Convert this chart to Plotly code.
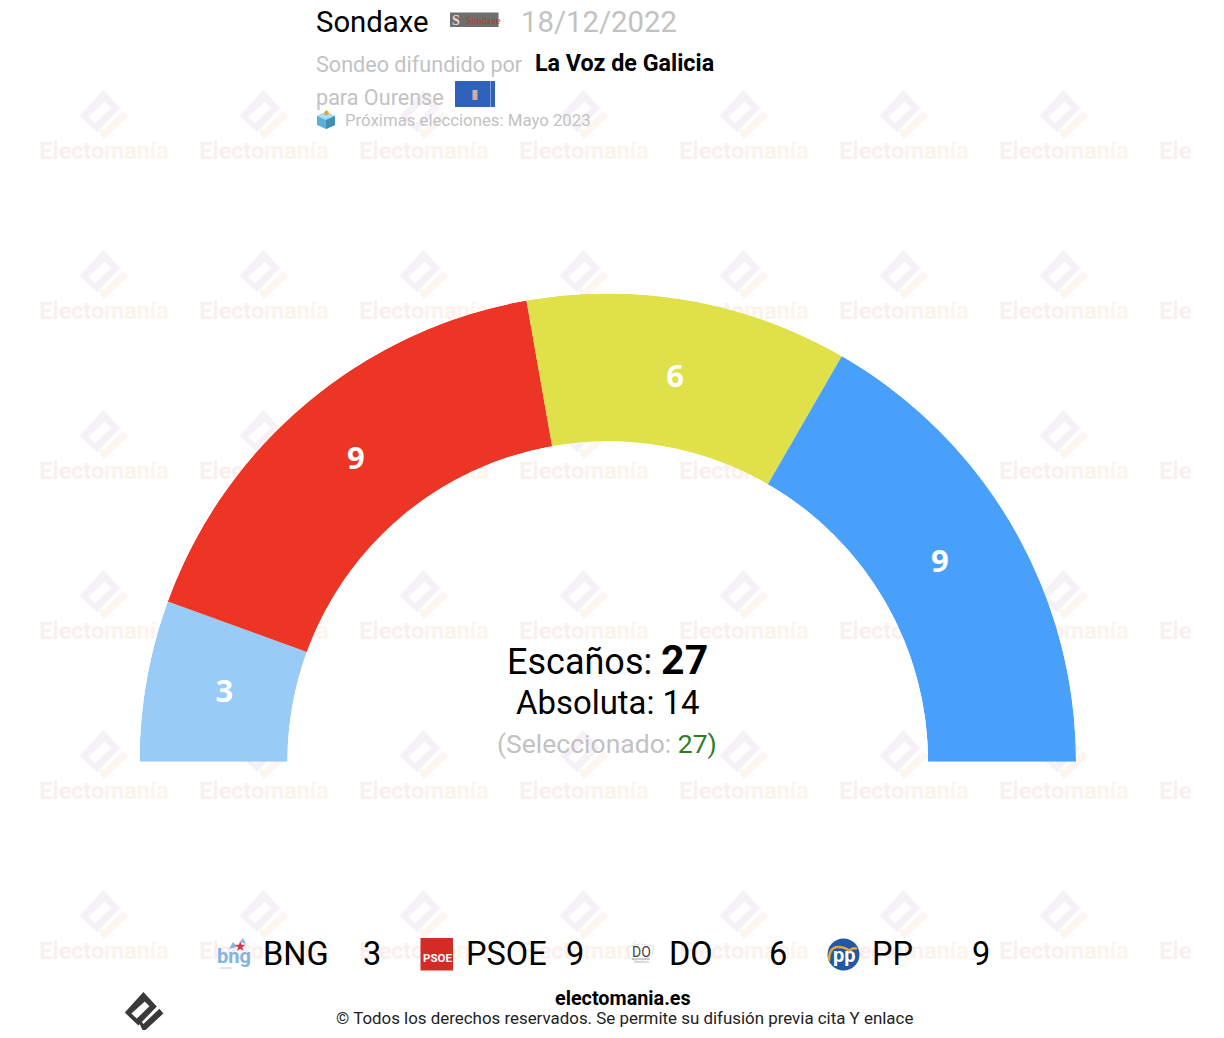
import numpy as np
import plotly.graph_objects as go

# Seat data
parties = ['BNG', 'PSOE', 'DO', 'PP']
seats = [3, 9, 6, 9]
colors = ['#99cbf7', '#ec3524', '#dfe04a', '#48a0fa']

total_seats = 27
majority = 14
selected = 27

# Page size and the part of it used by the chart (page pixels)
fig_w, fig_h = 1208, 1022
page_pad = 8
clip_right = 1192

# Watermark grid
mark_xs = [104, 264, 424, 584, 744, 904, 1064, 1224]
mark_ys = [115, 275, 435, 595, 755, 915]

# Seat arcs, left to right along the half circle
spans = np.array(seats) * 180 / sum(seats)
ends = np.cumsum(spans)
mids = ends - spans / 2

# Number labels do not sit exactly mid-band in the original
label_r = [0.466, 0.485, 0.46, 0.446]
label_nudge = [0, 0, 0, -0.7]

fig = go.Figure()

# Hidden axes in page pixels, used for the watermark and the texts
wm_x = [x for x in mark_xs for y in mark_ys]
wm_y = [y + 38 for x in mark_xs for y in mark_ys]
wm_text = ('<span style="color:#fbeeee">Elec</span><span style="color:#fbefec">to</span>'
           '<span style="color:#fcf1eb">ma</span><span style="color:#fdf4ea">nía</span>')
fig.add_trace(go.Scatter(x=wm_x, y=wm_y, mode='text', text=[wm_text] * len(wm_x),
                         textfont=dict(family='Roboto', size=23.3, weight='bold'),
                         hoverinfo='skip', showlegend=False))

fig.add_trace(go.Barpolar(r=[1] * len(seats), theta=mids, width=spans, marker_color=colors,
                          marker_line_width=0, text=parties, hoverinfo='text', showlegend=False))
fig.add_trace(go.Scatterpolar(r=label_r, theta=mids + np.array(label_nudge), mode='text',
                              text=[str(s) for s in seats],
                              textfont=dict(family='Open Sans', size=31, color='white', weight='bold'),
                              hoverinfo='skip', showlegend=False))


def logo_paths(ox, oy, s):
    def path(points):
        return 'M' + 'L'.join(f'{ox + px * s:.1f},{oy + py * s:.1f}' for px, py in points) + 'Z'
    body = path([(-0.7, -25), (16, -7), (-7, 17), (-24, 0.7)])
    window = path([(-15.7, 1.7), (1, -13.3), (6.7, -7.3), (-9, 8.3)])
    tick = path([(-5.7, 14), (-0.7, 25), (24.3, 1.7), (19.3, -4), (-0.7, 15), (-3, 12)])
    return body, window, tick


shapes = []


def add_path(d, fill, layer='above', line=None, width=0):
    shapes.append(dict(type='path', path=d, xref='x', yref='y', fillcolor=fill, layer=layer,
                       line=dict(color=line or 'rgba(0,0,0,0)', width=width)))


def add_box(x0, y0, x1, y1, fill, line=None):
    shapes.append(dict(type='rect', x0=x0, y0=y0, x1=x1, y1=y1, xref='x', yref='y', fillcolor=fill,
                       line=dict(color=line or 'rgba(0,0,0,0)', width=1 if line else 0)))


for mx in mark_xs:
    for my in mark_ys:
        body, window, tick = logo_paths(mx, my, 1)
        add_path(body, '#f6f1f7', 'below')
        add_path(window, 'white', 'below')
        add_path(tick, '#fcf5f0', 'below')

# Footer logo
body, window, tick = logo_paths(144, 1012, 0.8)
add_path(body, '#3a3a3a')
add_path(window, 'white')
add_path(tick, '#3a3a3a')

annotations = []


def label(x, y, text, size, color='black', anchor='left', family='Roboto'):
    annotations.append(dict(x=x, y=y, xref='x', yref='y', text=text, showarrow=False, xanchor=anchor,
                            yanchor='middle', font=dict(family=family, size=size, color=color),
                            align='left' if anchor == 'left' else 'center', borderpad=0))


# Header
grey = '#c2c2c2'
label(315, 22, 'Sondaxe', 29.3)
label(520, 22, '18/12/2022', 29.3, grey)
label(315, 64, 'Sondeo difundido por', 21.6, grey)
label(534, 63, '<b>La Voz de Galicia</b>', 23.3)
label(315, 97, 'para Ourense', 21.6, grey)
label(344, 119.5, 'Próximas elecciones: Mayo 2023', 16.8, grey)

# Sondaxe logo
add_box(450, 12.5, 498.5, 27, '#6e6e6e')
label(451, 20, '<b>S</b>', 14, '#e6d6d6', family='Liberation Serif')
label(465, 20, 'Sondaxe', 10, '#d0302c', family='Liberation Serif')

# Ourense flag
add_box(455, 81, 495, 107, '#2f62bb')
add_box(490.5, 81, 491, 107, '#cfdcf2')
add_box(472.5, 90, 477.5, 100, '#cdb0a0')

# Ballot box icon
add_path('M317,116L326,112L335,116L335,125L326,129L317,125Z', '#5bb0d4')
add_path('M317,116L326,112L335,116L326,120Z', '#a9dff0')
add_path('M326,120L335,116L335,125L326,129Z', '#3f8fb8')
add_path('M324.5,115L324.5,112L326.5,110L328.5,112L328.5,115Z', '#f0993a')

# Centre block
label(607.5, 660, f'Escaños: <span style="font-size:41px"><b>{total_seats}</b></span>', 36, anchor='center')
label(608, 702, f'Absoluta: {majority}', 32.9, anchor='center')
label(607, 743, f'(Seleccionado: <span style="color:#2e7d1e">{selected}</span><span style="color:#2e7d1e">)</span>',
      26.5, grey, anchor='center')

# Legend row
for i, (party, seat) in enumerate(zip(parties, seats)):
    label(262 + 203 * i, 954, party, 32.5)
    label(362 + 203 * i, 954, str(seat), 32.5)

# BNG logo
label(234, 956, '<b>bng</b>', 20, '#84b4de', anchor='center')
label(240, 946, '★', 14, '#d8344a', anchor='center')
add_path('M229,949L233,942L237,947Z', '#84b4de')
add_path('M240,942L243,938L246,944Z', '#84b4de')
add_box(220, 967, 232, 969, '#dbe7f3')

# PSOE logo
add_box(420.5, 938, 453, 970.5, '#d42b27')
label(437, 958, '<b>PSOE</b>', 11.5, 'white', anchor='center')

# DO logo
add_path('M627,947L640,944L654,946L652,955L640,962L629,958Z', 'white', line='#e2e2e2', width=1)
label(641, 952, 'DO', 14, '#444444', anchor='center')
add_box(632, 958.5, 650, 959.5, '#999999')
add_box(634, 961.5, 649, 962.5, '#bbbbbb')

# PP logo
shapes.append(dict(type='circle', x0=827.5, y0=938.5, x1=859.5, y1=970.5, xref='x', yref='y',
                   fillcolor='#1f58a5', line_width=0))
add_path('M829,961Q829,947 838,947Q846,947 849,951Q853,947 857,949', 'rgba(0,0,0,0)', line='#e8a23a', width=2.5)
label(844, 955, '<b>pp</b>', 20, 'white', anchor='center')

# Footer
label(622.5, 998, '<b>electomania.es</b>', 19.8, anchor='center')
label(624, 1017.5, '© Todos los derechos reservados. Se permite su difusión previa cita Y enlace', 16.9, '#222222', anchor='center')

fig.update_layout(
    width=fig_w, height=fig_h,
    margin=dict(l=0, r=0, t=0, b=0),
    paper_bgcolor='white', plot_bgcolor='rgba(0,0,0,0)',
    showlegend=False,
    shapes=shapes, annotations=annotations,
    xaxis=dict(visible=False, range=[page_pad, clip_right], domain=[0, (clip_right - page_pad) / fig_w]),
    yaxis=dict(visible=False, range=[fig_h + page_pad, page_pad], domain=[0, 1]),
    polar=dict(
        domain=dict(x=[(139.5 - page_pad) / fig_w, (1076 - page_pad) / fig_w],
                    y=[(fig_h + page_pad - 762) / fig_h, (fig_h + page_pad - 293) / fig_h]),
        sector=[0, 180], hole=0.684, bgcolor='rgba(0,0,0,0)',
        radialaxis=dict(visible=False, range=[0, 1]),
        angularaxis=dict(visible=False, rotation=180, direction='clockwise', thetaunit='degrees'),
    ),
)

fig.write_html("out.html")
